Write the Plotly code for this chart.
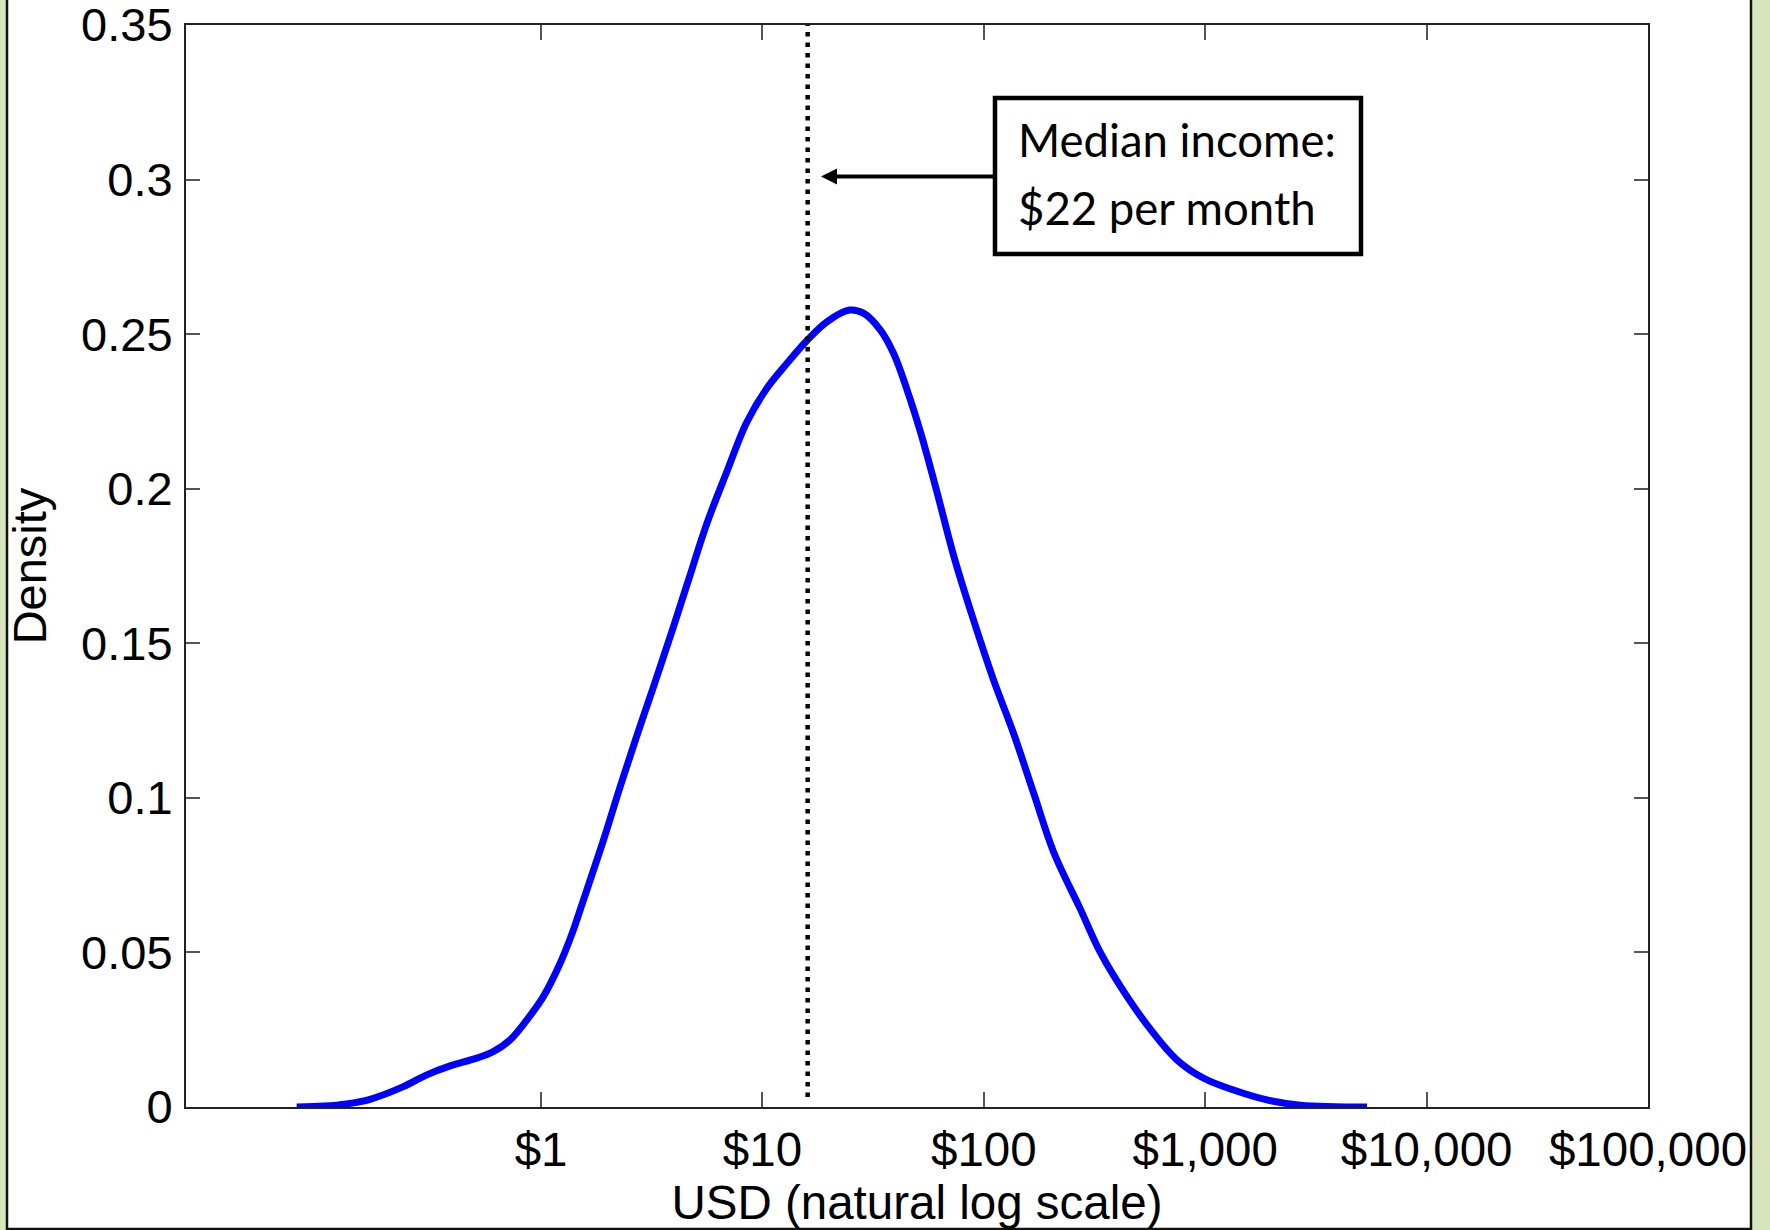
import plotly.graph_objects as go

# ---- data ----
income_usd = [0.0787, 0.1047, 0.1324, 0.1687, 0.2388, 0.3048, 0.3882, 0.5117, 0.6081,
              0.7244, 0.8610, 1.0233, 1.2190, 1.3996, 1.4997, 1.9143, 2.2751, 2.7040,
              3.2211, 3.9628, 4.6345, 5.6105, 6.9024, 8.4918, 10.471, 12.883, 15.959,
              19.543, 24.717, 28.576, 34.041, 39.084, 44.978, 51.642, 61.376, 72.946,
              89.742, 110.66, 136.14, 167.88, 206.54, 272.90, 335.74, 443.61, 584.79,
              746.45, 984.01, 1342.8, 1901.1, 2691.5, 5382.7]
density = [0.0, 0.0003, 0.001, 0.0025, 0.0066, 0.0104, 0.0133, 0.0158, 0.0179,
           0.0217, 0.0281, 0.0357, 0.0465, 0.0573, 0.0637, 0.0864, 0.1036, 0.1200,
           0.1360, 0.1554, 0.1705, 0.1888, 0.2055, 0.2215, 0.2325, 0.2405, 0.2481,
           0.2540, 0.2578, 0.2568, 0.2514, 0.2438, 0.2320, 0.2185, 0.1990, 0.1785,
           0.1576, 0.1381, 0.1209, 0.1015, 0.0825, 0.0640, 0.0500, 0.0357, 0.0238,
           0.0152, 0.0093, 0.0055, 0.0023, 0.0006, 0.0]

x_tick_values = [1, 10, 100, 1000, 10000, 100000]
x_tick_labels = ["$1", "$10", "$100", "$1,000", "$10,000", "$100,000"]
y_tick_values = [0, 0.05, 0.1, 0.15, 0.2, 0.25, 0.3, 0.35]
y_tick_labels = ["0", "0.05", "0.1", "0.15", "0.2", "0.25", "0.3", "0.35"]

median_line_x = 16          # position of the dotted line as drawn
annotation_lines = ["Median income:", "$22 per month"]
x_title = "USD (natural log scale)"
y_title = "Density"

# ---- layout geometry (pixels) ----
W, H = 1770, 1230
L, R, T, B = 186, 1648, 25, 1107
pw, ph = R - L, B - T


def px(xp):
    return (xp - L) / pw


def py(yp):
    return (B - yp) / ph


fig = go.Figure()
fig.add_trace(go.Scatter(
    x=income_usd, y=density, mode="lines",
    line=dict(color="#0000ff", width=7, shape="spline", smoothing=1.0),
    hoverinfo="skip", showlegend=False,
))

x_font = dict(family="Liberation Sans, Arial, sans-serif", size=47.5, color="#000")
y_font = dict(family="Liberation Sans, Arial, sans-serif", size=47, color="#000")

fig.update_layout(
    width=W, height=H,
    margin=dict(l=L, r=W - R, t=T, b=H - B, autoexpand=False),
    paper_bgcolor="#d8e4bd",
    plot_bgcolor="#ffffff",
    showlegend=False,
    xaxis=dict(
        type="log", range=[-1.604, 5.0],
        tickvals=x_tick_values, ticktext=x_tick_labels,
        ticks="inside", ticklen=15, tickwidth=1.5, tickcolor="#555",
        showline=True, linecolor="#222", linewidth=2, mirror="ticks",
        showgrid=False, zeroline=False,
        tickfont=x_font, ticklabelstandoff=0, ticklabeloverflow="allow",
        title=dict(text=x_title, font=x_font, standoff=11),
        automargin=False,
    ),
    yaxis=dict(
        range=[0, 0.35001],
        tickvals=y_tick_values, ticktext=y_tick_labels,
        ticks="inside", ticklen=14, tickwidth=1.5, tickcolor="#555",
        showline=True, linecolor="#222", linewidth=2, mirror="ticks",
        showgrid=False, zeroline=False,
        tickfont=y_font, ticklabelstandoff=2, ticklabeloverflow="allow",
        title=dict(text=y_title, font=y_font, standoff=20),
        automargin=False,
    ),
)

# white panel with dark border (outside the plot area)
fig.add_shape(type="rect", xref="paper", yref="paper",
              x0=px(7), x1=px(1751), y0=py(1229), y1=py(-10),
              line=dict(color="#111", width=2.5), fillcolor="#ffffff", layer="below")

# dotted median line
fig.add_shape(type="line", xref="x", yref="y",
              x0=median_line_x, x1=median_line_x, y0=0.0032, y1=0.35,
              line=dict(color="#000", width=4.5, dash="4.5px,6px"), layer="above")

# annotation box
fig.add_shape(type="rect", xref="paper", yref="paper",
              x0=px(995), x1=px(1361), y0=py(254), y1=py(98),
              line=dict(color="#000", width=4.5), fillcolor="#ffffff", layer="above")

box_font = dict(family="Lato, Open Sans, sans-serif", size=45.5, color="#000")
fig.add_annotation(xref="paper", yref="paper", x=px(1016), y=py(139),
                   xanchor="left", yanchor="middle", text=annotation_lines[0],
                   showarrow=False, font=box_font)
fig.add_annotation(xref="paper", yref="paper", x=px(1016), y=py(207),
                   xanchor="left", yanchor="middle", text=annotation_lines[1],
                   showarrow=False, font=box_font)

# arrow from box to line
fig.add_annotation(xref="paper", yref="paper", x=px(821), y=py(176.5),
                   ax=995 - 821, ay=0, axref="pixel", ayref="pixel",
                   text="", showarrow=True, arrowhead=2, arrowsize=0.8,
                   arrowwidth=4, arrowcolor="#000", standoff=0, startstandoff=0)

fig.write_html("out.html")
